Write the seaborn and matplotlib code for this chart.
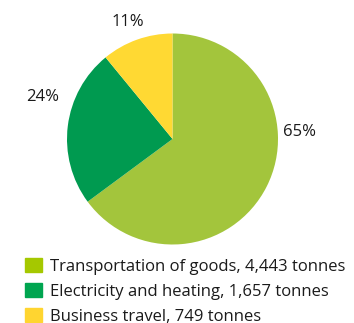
import matplotlib
matplotlib.use("Agg")
import matplotlib.pyplot as plt
import matplotlib.patches as mpatches
import seaborn as sns
import numpy as np

categories = ["Transportation of goods, 4,443 tonnes",
              "Electricity and heating, 1,657 tonnes",
              "Business travel, 749 tonnes"]
values = [4443, 1657, 749]
pct_labels = ["65%", "24%", "11%"]

pie_colors = ["#a3c53c", "#009a50", "#ffd933"]
legend_colors = ["#a5c800", "#00a550", "#ffd530"]

sns.set_theme(style="white")
plt.rcParams['font.family'] = ['Open Sans', 'DejaVu Sans']

W, H = 354, 323
fig = plt.figure(figsize=(W / 100, H / 100), dpi=100)
cx, cy, r = 172.5, 139, 105.5
ax = fig.add_axes([(cx - r) / W, 1 - (cy + r) / H, 2 * r / W, 2 * r / H])
wedges, _ = ax.pie(values, colors=pie_colors, startangle=90, counterclock=False,
                   radius=1, wedgeprops=dict(linewidth=0))
ax.set_xlim(-1, 1)
ax.set_ylim(-1, 1)
ax.set_aspect('auto')
ax.axis('off')

# label placement (angle in degrees, radial distance)
label_pos = [(3, 1.21), (162, 1.29), (111, 1.19)]
for txt, (ang, dist) in zip(pct_labels, label_pos):
    a = np.deg2rad(ang)
    ax.text(dist * np.cos(a), dist * np.sin(a), txt, ha='center', va='center',
            fontsize=12, color='#1a1a1a')

handles = [mpatches.Patch(color=c, label=l) for c, l in zip(legend_colors, categories)]
leg = fig.legend(handles=handles, loc='upper left', bbox_to_anchor=(20 / W, 1 - 253 / H),
                 frameon=False, fontsize=12, handlelength=1.0, handleheight=0.9,
                 handletextpad=0.5, labelspacing=0.5, borderaxespad=0, borderpad=0.3)
for t in leg.get_texts():
    t.set_color('#1a1a1a')

fig.savefig("out.png", dpi=100)
